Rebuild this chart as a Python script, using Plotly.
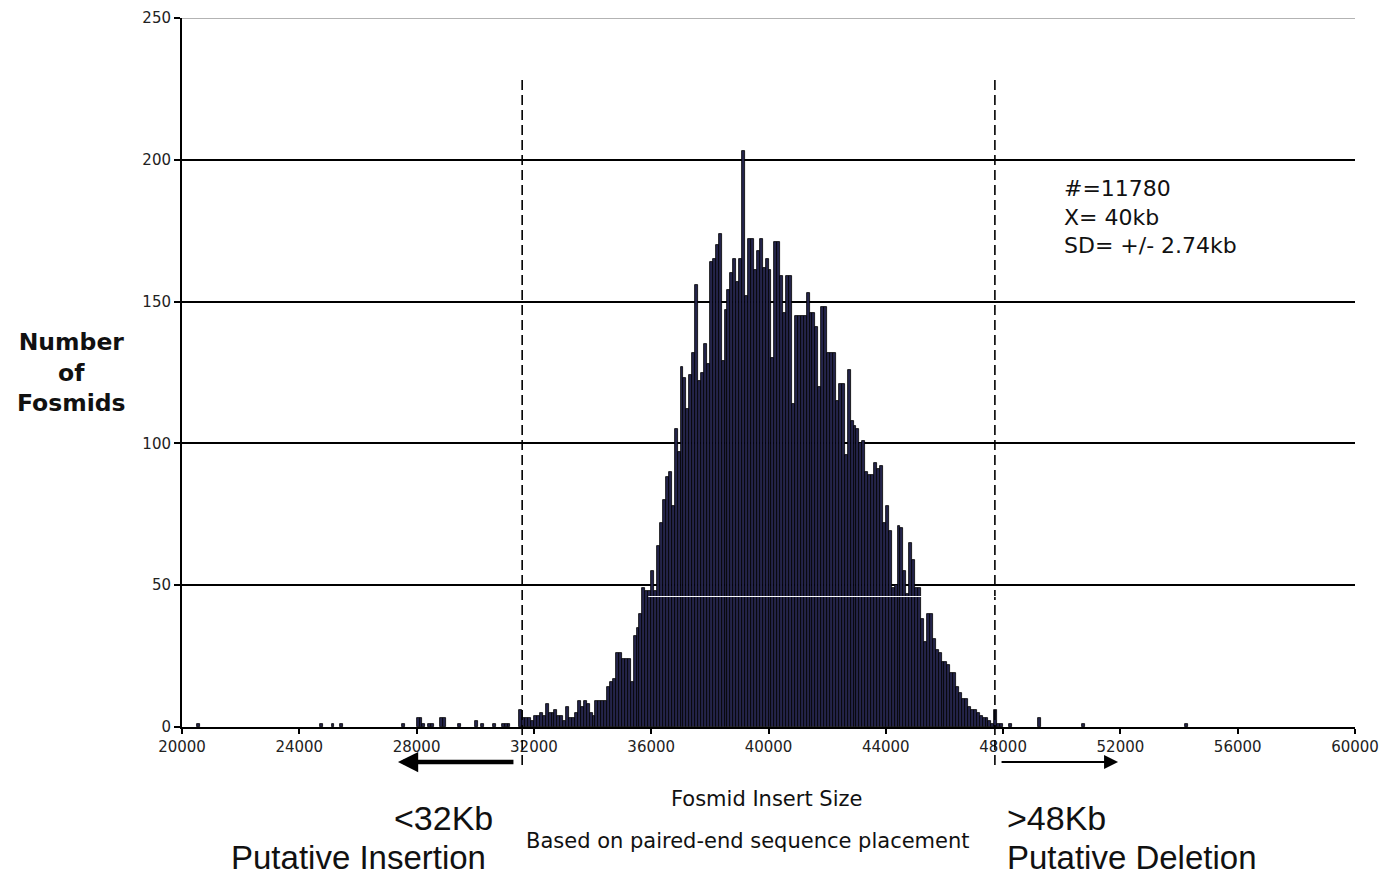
import plotly.graph_objects as go

# ---------------- data ----------------
bin_width = 100  # bp per histogram bin

# sparse left tail (bin left edges, counts)
left_tail_bins = [20500, 24700, 25100, 25400, 27500, 28000, 28100, 28200, 28400, 28500,
                  28800, 28900, 29400, 30000, 30200, 30600, 30900, 31000, 31100]
left_tail_counts = [1, 1, 1, 1, 1, 3, 3, 1, 1, 1,
                    3, 3, 1, 2, 1, 1, 1, 1, 1]

# dense central part, consecutive bins starting at main_start
main_start = 31500
main_counts = [
    6, 3, 3, 3, 2, 4, 4, 5, 4, 8,            # 31500-32400
    5, 5, 6, 4, 4, 2, 7, 3, 3, 5,            # 32500-33400
    9, 7, 9, 8, 5, 4, 9, 9, 9, 9,            # 33500-34400
    14, 16, 17, 26, 26, 24, 24, 24, 16, 32,  # 34500-35400
    35, 40, 49, 48, 48, 55, 48, 64, 72, 80,  # 35500-36400
    88, 90, 78, 105, 97, 127, 123, 112, 124, 132,   # 36500-37400
    156, 122, 125, 135, 128, 164, 165, 170, 174, 129,  # 37500-38400
    147, 154, 160, 165, 157, 165, 203, 152, 172, 172,  # 38500-39400
    161, 168, 172, 162, 165, 161, 130, 171, 171, 159,  # 39500-40400
    146, 159, 159, 114, 145, 145, 145, 145, 153, 146,  # 40500-41400
    146, 141, 120, 148, 148, 132, 132, 132, 115, 121,  # 41500-42400
    121, 96, 126, 108, 106, 105, 100, 101, 90, 89,     # 42500-43400
    89, 93, 91, 92, 72, 78, 69, 49, 50, 71,            # 43500-44400
    70, 55, 47, 65, 59, 49, 49, 38, 30, 40,            # 44500-45400
    40, 31, 27, 26, 23, 23, 22, 19, 19, 14,            # 45500-46400
    12, 10, 10, 7, 6, 6, 5, 4, 3, 3,                   # 46500-47400
    2, 1, 6,                                           # 47500-47700
]

# sparse right tail
right_tail_bins = [47800, 47900, 48200, 49200, 50700, 54200]
right_tail_counts = [1, 1, 1, 3, 1, 1]

x_ticks = [20000, 24000, 28000, 32000, 36000, 40000, 44000, 48000, 52000, 56000, 60000]
y_ticks = [0, 50, 100, 150, 200, 250]

cut_low_line = 31600    # dashed marker drawn near 32 kb
cut_high_line = 47720   # dashed marker drawn near 48 kb
stats_text = "#=11780<br>X= 40kb<br>SD= +/- 2.74kb"

# ---------------- build ----------------
main_bins = [main_start + i * bin_width for i in range(len(main_counts))]
bins = left_tail_bins + main_bins + right_tail_bins
counts = left_tail_counts + main_counts + right_tail_counts
centers = [b + bin_width / 2 for b in bins]

fig = go.Figure()
fig.add_trace(go.Bar(
    x=centers, y=counts, width=bin_width,
    marker=dict(color="#24244a", line=dict(color="black", width=0.8)),
    hoverinfo="x+y",
))

tick_font = dict(family="DejaVu Sans", size=15, color="#222222")

fig.update_layout(
    width=1382, height=878, autosize=False,
    margin=dict(l=182, r=27, t=18, b=151),
    plot_bgcolor="white", paper_bgcolor="white",
    bargap=0, showlegend=False,
    xaxis=dict(
        range=[20000, 60000], tickvals=x_ticks, ticktext=[str(v) for v in x_ticks],
        ticks="outside", ticklen=5, tickcolor="black", tickwidth=1.5,
        showline=True, linecolor="black", linewidth=1.5,
        showgrid=False, zeroline=False, tickfont=tick_font, automargin=False,
    ),
    yaxis=dict(
        range=[0, 250], tickvals=y_ticks, ticktext=[str(v) for v in y_ticks],
        ticks="outside", ticklen=6, tickcolor="black", tickwidth=1.5,
        showline=True, linecolor="black", linewidth=2,
        showgrid=True, gridcolor="black", gridwidth=1.5,
        zeroline=False, tickfont=tick_font, automargin=False,
    ),
)

shapes = []
for xv in (cut_low_line, cut_high_line):
    shapes.append(dict(type="line", xref="x", yref="paper", x0=xv, x1=xv,
                       y0=0.9125, y1=-0.058,
                       line=dict(color="black", width=1.6, dash="10px,5px"),
                       layer="above"))
# light top gridline
shapes.append(dict(type="line", xref="paper", yref="y", x0=0, x1=1, y0=250, y1=250,
                   line=dict(color="#9a9a9a", width=1.5), layer="above"))
# faint white scan line crossing bars
shapes.append(dict(type="line", xref="x", yref="y", x0=35900, x1=48000, y0=46, y1=46,
                   line=dict(color="white", width=1), layer="above"))
fig.update_layout(shapes=shapes)


def txt(text, x, y, size, family="DejaVu Sans", xanchor="center", align="center"):
    return dict(text=text, xref="paper", yref="paper", x=x, y=y,
                xanchor=xanchor, yanchor="middle", align=align, showarrow=False,
                font=dict(family=family, size=size, color="#111111"))


ann = []
ann.append(txt("<b>Number<br>of<br>Fosmids</b>", -0.0938, 0.4993, 23.5))
ann.append(txt(stats_text, 0.7502, 0.7193, 22, xanchor="left", align="left"))
ann.append(txt("Fosmid Insert Size", 0.4987, -0.1016, 21))
ann.append(txt("Based on paired-end sequence placement", 0.4825, -0.1608, 21))
big = "Liberation Sans, Arial"
ann.append(txt("&lt;32Kb", 0.2668, -0.1283, 34, family=big, xanchor="right"))
ann.append(txt("Putative Insertion", 0.261, -0.1835, 33, family=big, xanchor="right"))
ann.append(txt("&gt;48Kb", 0.7016, -0.1283, 34, family=big, xanchor="left"))
ann.append(txt("Putative Deletion", 0.7016, -0.1835, 33, family=big, xanchor="left"))
# arrows
ann.append(dict(text="", xref="paper", yref="paper", x=0.1841, y=-0.0494,
                ax=117, ay=0, axref="pixel", ayref="pixel", showarrow=True,
                arrowhead=2, arrowsize=0.9, arrowwidth=4.5, arrowcolor="black"))
ann.append(dict(text="", xref="paper", yref="paper", x=0.798, y=-0.0494,
                ax=-118, ay=0, axref="pixel", ayref="pixel", showarrow=True,
                arrowhead=2, arrowsize=1.4, arrowwidth=2, arrowcolor="black"))
fig.update_layout(annotations=ann)

fig.write_html("out.html", config={"displayModeBar": False},
               post_script="document.body.style.margin='0';")
